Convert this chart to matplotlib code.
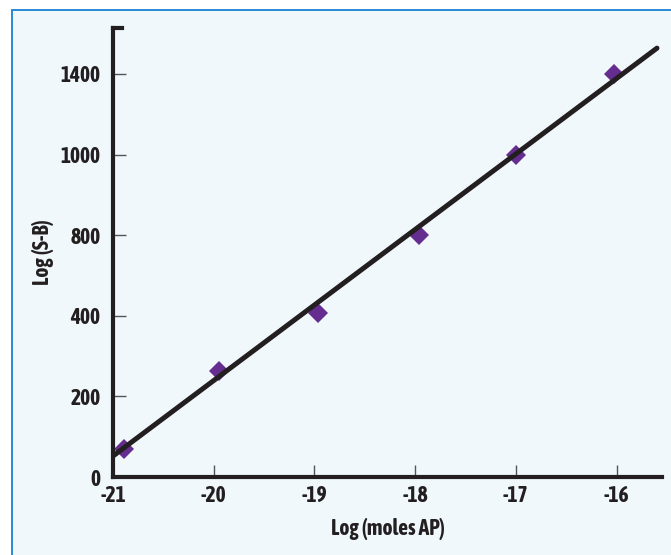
import matplotlib
matplotlib.use("Agg")
import matplotlib.pyplot as plt
from matplotlib.patches import Rectangle
from matplotlib.lines import Line2D

# Data
log_moles = [-20.89, -19.95, -18.96, -17.96, -17.0, -16.03]
# y positions in tick-index units (ticks are evenly spaced but labelled 0,200,400,800,1000,1400)
signal_pos = [0.35, 1.31, 2.04, 3.0, 3.99, 5.0]
fit_x = [-21.0, -15.6]
fit_y = [0.26, 5.32]
x_ticks = [-21, -20, -19, -18, -17, -16]
y_tick_pos = [0, 1, 2, 3, 4, 5]
y_tick_labels = ["0", "200", "400", "800", "1000", "1400"]

plt.rcParams['font.family'] = ['Asap Condensed', 'DejaVu Sans']
plt.rcParams['font.weight'] = 'bold'

fig = plt.figure(figsize=(6.71, 5.55), dpi=100)
fig.patch.set_facecolor('white')
# framed panel background
bg = Rectangle((12/671, -0.1), 1.2, 1 - 10/555 + 0.1, transform=fig.transFigure,
               facecolor='#f0f8fc', edgecolor='#1a80d2', linewidth=1.3, zorder=-10)
fig.patches.append(bg)

ax = fig.add_axes([113/671, 1 - 477/555, (662 - 113)/671, (477 - 28)/555])
ax.set_facecolor('none')

ax.plot(fit_x, fit_y, color='#231f20', linewidth=3.6, solid_capstyle='round', zorder=3)
ax.plot(log_moles, signal_pos, linestyle='none', marker='D', markersize=10.5,
        color='#662d91', markeredgewidth=0, zorder=2)

ax.set_xlim(-21, -15.55)
ax.set_ylim(0, 5.57)
ax.set_xticks(x_ticks)
ax.set_xticklabels([str(t) for t in x_ticks])
ax.set_yticks(y_tick_pos)
ax.set_yticklabels(y_tick_labels)

for s in ['top', 'right']:
    ax.spines[s].set_visible(False)
for s in ['left', 'bottom']:
    ax.spines[s].set_linewidth(3)
    ax.spines[s].set_color('#231f20')
    ax.spines[s].set_capstyle('projecting')

ax.tick_params(direction='in', length=9, width=1, color='#555555',
               labelsize=15.5, labelcolor='#231f20')
ax.tick_params(axis='x', pad=6)
ax.tick_params(axis='y', pad=9)

# small cap at top of y axis
ax.add_line(Line2D([0, 0.016], [1, 1], transform=ax.transAxes, color='#231f20',
                   linewidth=3, solid_capstyle='projecting', clip_on=False))

ax.set_xlabel('Log (moles AP)', fontsize=15.5, fontweight='bold', color='#231f20', labelpad=8)
ax.set_ylabel('Log (S-B)', fontsize=15.5, fontweight='bold', color='#231f20', labelpad=5)

fig.savefig('out.png', dpi=100)
